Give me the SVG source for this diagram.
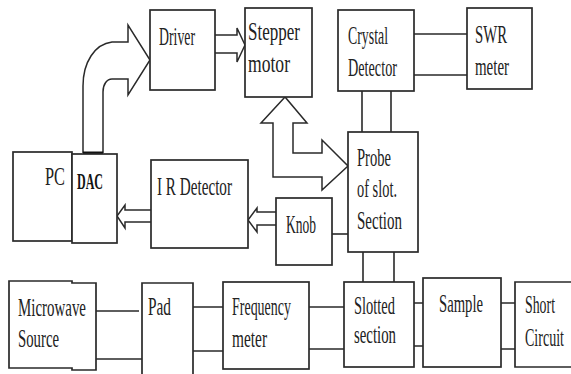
<svg xmlns="http://www.w3.org/2000/svg" width="571" height="374" viewBox="0 0 571 374">
<style>
.b{fill:#fff;stroke:#2a2a2a;stroke-width:1.7}
.c{fill:none;stroke:#2a2a2a;stroke-width:1.6}
.a{fill:#fff;stroke:#2a2a2a;stroke-width:1.5;stroke-linejoin:miter}
.t{font-family:"Liberation Serif","Times New Roman",serif;font-size:15px;fill:#222}
.d{font-family:"Liberation Serif","Times New Roman",serif;font-size:14px;font-weight:bold;fill:#111}
</style>
<rect width="571" height="374" fill="#fff"/>
<g id="connectors">
<path class="a" d="M83,153 L83,86 C83,62 95,44 112,42 L128,42 L128,25 L150,60 L128,95 L128,79 L112,79 C107,79 103,84 103,92 L103,153"/>
<line x1="83" y1="153" x2="103" y2="153" stroke="#111" stroke-width="3"/>
<path class="a" d="M215,35 L237,35 L237,28 L245,45 L237,62 L237,53 L215,53"/>
<path class="a" d="M285,97 L261,123 L273,123 L273,177 L322,177 L322,190 L348,166 L322,140 L322,153 L293,153 L293,123 L307,123 Z"/>
<path class="a" d="M151,210 L125,210 L125,205 L117,216 L125,228 L125,222 L151,222"/>
<path class="a" d="M276,212 L257,212 L257,208 L248,220 L257,232 L257,225 L276,225"/>
<path class="c" d="M414,34 H467 M414,75 H467"/>
<path class="c" d="M362,91 V132 M391,91 V132"/>
<path class="c" d="M332,234 H348"/>
<path class="c" d="M363,252 V282 M394,252 V282"/>
<path class="c" d="M96,311 H139 M96,359 H142"/>
<path class="c" d="M193,307 H223 M193,351 H223"/>
<path class="c" d="M309,307 H344 M309,349 H344"/>
<path class="c" d="M414,303 H423 M414,346 H423"/>
<path class="c" d="M501,303 H515 M501,349 H515"/>
</g>
<g id="pc"><rect class="b" x="13" y="152" width="59" height="89"/><text class="t" transform="translate(45,185) scale(1,1.667)" textLength="20" lengthAdjust="spacingAndGlyphs">PC</text></g>
<g id="dac"><rect class="b" x="72" y="154" width="45" height="89"/><text class="d" transform="translate(77,189) scale(1,1.667)" textLength="26" lengthAdjust="spacingAndGlyphs">DAC</text></g>
<g id="driver"><rect class="b" x="150" y="10" width="65" height="80"/><text class="t" transform="translate(159,45) scale(1,1.667)" textLength="36" lengthAdjust="spacingAndGlyphs">Driver</text></g>
<g id="stepper"><rect class="b" x="245" y="8" width="67" height="89"/><text class="t" transform="translate(248,40) scale(1,1.667)" textLength="52" lengthAdjust="spacingAndGlyphs">Stepper</text><text class="t" transform="translate(248,72) scale(1,1.667)" textLength="42" lengthAdjust="spacingAndGlyphs">motor</text></g>
<g id="crystal"><rect class="b" x="338" y="10" width="76" height="81"/><text class="t" transform="translate(348,44) scale(1,1.667)" textLength="40" lengthAdjust="spacingAndGlyphs">Crystal</text><text class="t" transform="translate(348,76) scale(1,1.667)" textLength="49" lengthAdjust="spacingAndGlyphs">Detector</text></g>
<g id="swr"><rect class="b" x="467" y="8" width="65" height="81"/><text class="t" transform="translate(475,43) scale(1,1.667)" textLength="32" lengthAdjust="spacingAndGlyphs">SWR</text><text class="t" transform="translate(475,75) scale(1,1.667)" textLength="34" lengthAdjust="spacingAndGlyphs">meter</text></g>
<g id="probe"><rect class="b" x="348" y="132" width="70" height="120"/><text class="t" transform="translate(357,166) scale(1,1.667)" textLength="34" lengthAdjust="spacingAndGlyphs">Probe</text><text class="t" transform="translate(357,197) scale(1,1.667)" textLength="40" lengthAdjust="spacingAndGlyphs">of slot.</text><text class="t" transform="translate(357,229) scale(1,1.667)" textLength="45" lengthAdjust="spacingAndGlyphs">Section</text></g>
<g id="ir"><rect class="b" x="151" y="160" width="97" height="88"/><text class="t" transform="translate(157,195) scale(1,1.667)" textLength="75" lengthAdjust="spacingAndGlyphs">I R Detector</text></g>
<g id="knob"><rect class="b" x="276" y="198" width="56" height="67"/><text class="t" transform="translate(286,233) scale(1,1.667)" textLength="30" lengthAdjust="spacingAndGlyphs">Knob</text></g>
<g id="microwave"><path class="b" d="M9,281 H72 V283 H96 V370 H72 V368 H9 Z"/><text class="t" transform="translate(18,316) scale(1,1.667)" textLength="68" lengthAdjust="spacingAndGlyphs">Microwave</text><text class="t" transform="translate(18,347) scale(1,1.667)" textLength="41" lengthAdjust="spacingAndGlyphs">Source</text></g>
<g id="pad"><path class="b" d="M142,376 V283 H193 V376"/><text class="t" transform="translate(148,315) scale(1,1.667)" textLength="23" lengthAdjust="spacingAndGlyphs">Pad</text></g>
<g id="frequency"><rect class="b" x="223" y="282" width="86" height="87"/><text class="t" transform="translate(232,315) scale(1,1.667)" textLength="59" lengthAdjust="spacingAndGlyphs">Frequency</text><text class="t" transform="translate(232,347) scale(1,1.667)" textLength="35" lengthAdjust="spacingAndGlyphs">meter</text></g>
<g id="slotted"><rect class="b" x="344" y="282" width="70" height="85"/><text class="t" transform="translate(354,314) scale(1,1.667)" textLength="41" lengthAdjust="spacingAndGlyphs">Slotted</text><text class="t" transform="translate(354,343) scale(1,1.667)" textLength="42" lengthAdjust="spacingAndGlyphs">section</text></g>
<g id="sample"><rect class="b" x="423" y="278" width="78" height="89"/><text class="t" transform="translate(439,312) scale(1,1.667)" textLength="44" lengthAdjust="spacingAndGlyphs">Sample</text></g>
<g id="short"><path class="b" d="M575,282 H515 V367 H575"/><text class="t" transform="translate(525,313) scale(1,1.667)" textLength="30" lengthAdjust="spacingAndGlyphs">Short</text><text class="t" transform="translate(525,346) scale(1,1.667)" textLength="39" lengthAdjust="spacingAndGlyphs">Circuit</text></g>
</svg>
